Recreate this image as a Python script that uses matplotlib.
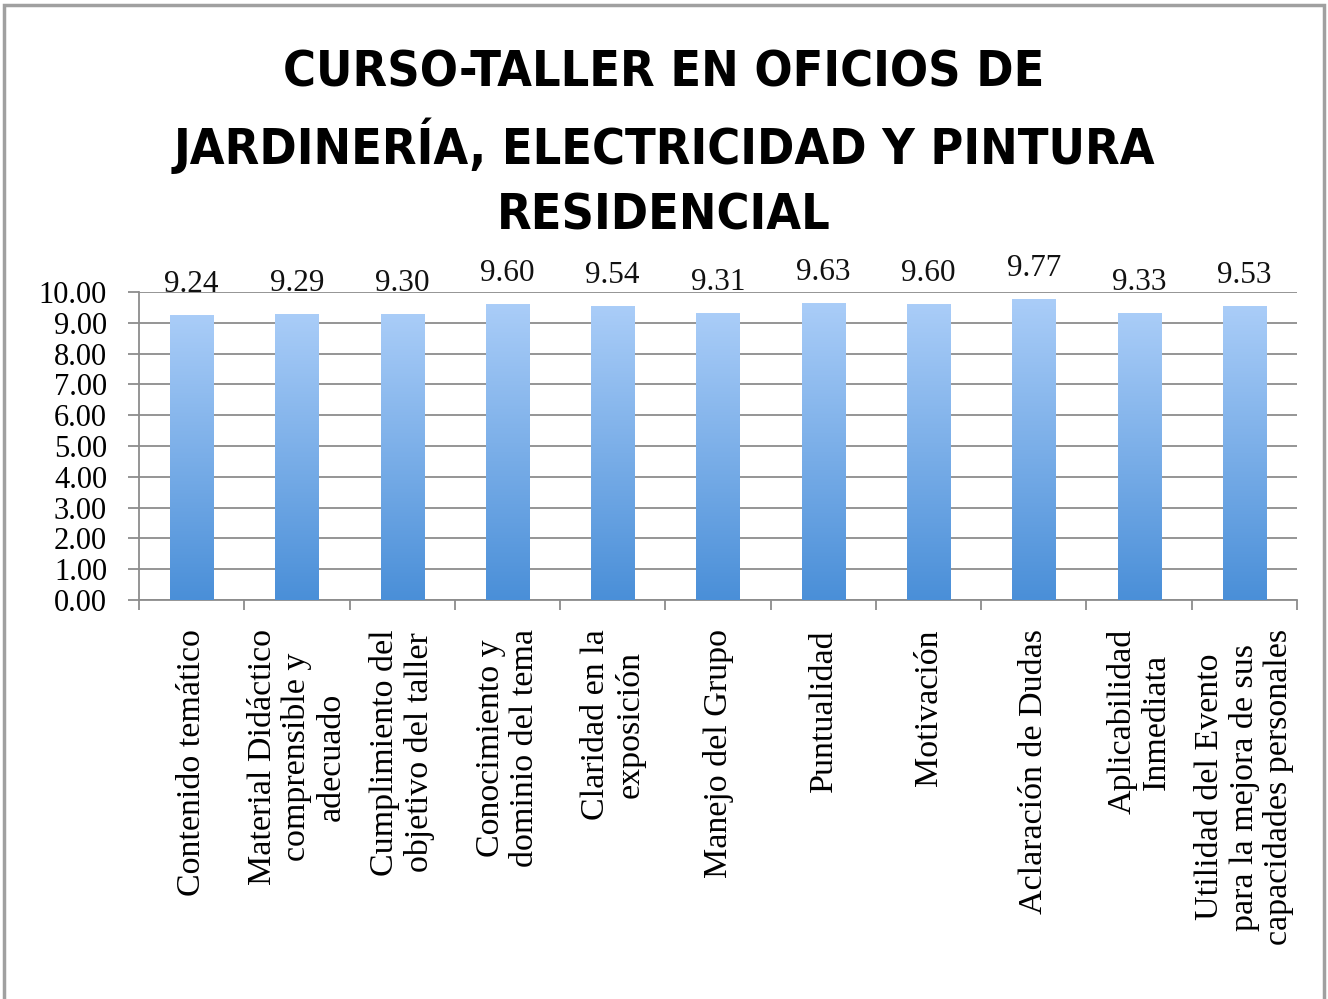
import matplotlib
matplotlib.use("Agg")
import matplotlib.pyplot as plt
import numpy as np
from matplotlib.colors import LinearSegmentedColormap
from matplotlib.patches import Rectangle

categories = [
    "Contenido temático",
    "Material Didáctico\ncomprensible y\nadecuado",
    "Cumplimiento del\nobjetivo del taller",
    "Conocimiento y\ndominio del tema",
    "Claridad en la\nexposición",
    "Manejo del Grupo",
    "Puntualidad",
    "Motivación",
    "Aclaración de Dudas",
    "Aplicabilidad\nInmediata",
    "Utilidad del Evento\npara la mejora de sus\ncapacidades personales",
]
values = [9.24, 9.29, 9.30, 9.60, 9.54, 9.31, 9.63, 9.60, 9.77, 9.33, 9.53]
title = "CURSO-TALLER EN OFICIOS DE\nJARDINERÍA, ELECTRICIDAD Y PINTURA\nRESIDENCIAL"

serif = ["Liberation Serif", "DejaVu Serif"]

fig = plt.figure(figsize=(13.28, 9.99), dpi=100)
fig.patch.set_facecolor("white")
fig.add_artist(Rectangle((0.003, -0.01), 0.994, 1.005, transform=fig.transFigure,
                         fill=False, edgecolor="#a0a0a0", linewidth=2.5))

ax = fig.add_axes([139/1328, 1 - 600/999, (1297-139)/1328, (600-292)/999])
x = np.arange(len(values))
bars = ax.bar(x, values, width=0.41, color="none", zorder=3)

cmap = LinearSegmentedColormap.from_list("g", ["#4a8fd8", "#aacdf8"])
grad = np.linspace(0, 1, 256).reshape(-1, 1)
for b in bars:
    x0, y0 = b.get_x(), b.get_y()
    w, h = b.get_width(), b.get_height()
    im = ax.imshow(grad, cmap=cmap, origin="lower", aspect="auto",
                   extent=(x0, x0 + w, y0, y0 + h), zorder=3)
    im.set_clip_path(b)

for xi, v in zip(x, values):
    ax.text(xi, v + 0.52, f"{v:.2f}", ha="center", va="bottom",
            fontsize=22.5, family=serif, color="#111111")

ax.set_xlim(-0.5, len(values) - 0.5)
ax.set_ylim(0, 10)
ax.set_yticks(np.arange(0, 10.01, 1))
ax.set_yticklabels([f"{t:.2f}" for t in np.arange(0, 10.01, 1)], family=serif, fontsize=22)
ax.yaxis.grid(True, color="#8c8c8c", linewidth=1.3, zorder=0)
ax.set_axisbelow(True)

ax.set_xticks(np.arange(-0.5, len(values), 1))
ax.set_xticklabels([])
ax.set_xticks(x, minor=True)
ax.set_xticklabels(categories, minor=True, rotation=90, family=serif, fontsize=24.5,
                   ha="center", va="top", multialignment="center", linespacing=1.15)
ax.tick_params(axis="x", which="minor", length=0, pad=21)
ax.tick_params(axis="x", which="major", length=7, color="#8c8c8c", width=1.3)
ax.tick_params(axis="y", length=8, color="#8c8c8c", width=1.3, pad=15)

for s in ["top", "right"]:
    ax.spines[s].set_visible(False)
ax.spines["left"].set_color("#8c8c8c")
ax.spines["bottom"].set_color("#8c8c8c")
ax.spines["left"].set_linewidth(1.3)
ax.spines["bottom"].set_linewidth(1.3)

fig.text(0.5, 1 - 144/999, title, ha="center", va="center", fontsize=36,
         fontweight="bold", family=["Liberation Sans Narrow", "DejaVu Sans"],
         fontstretch="condensed", linespacing=1.45)

fig.savefig("out.png", dpi=100, facecolor="white")
